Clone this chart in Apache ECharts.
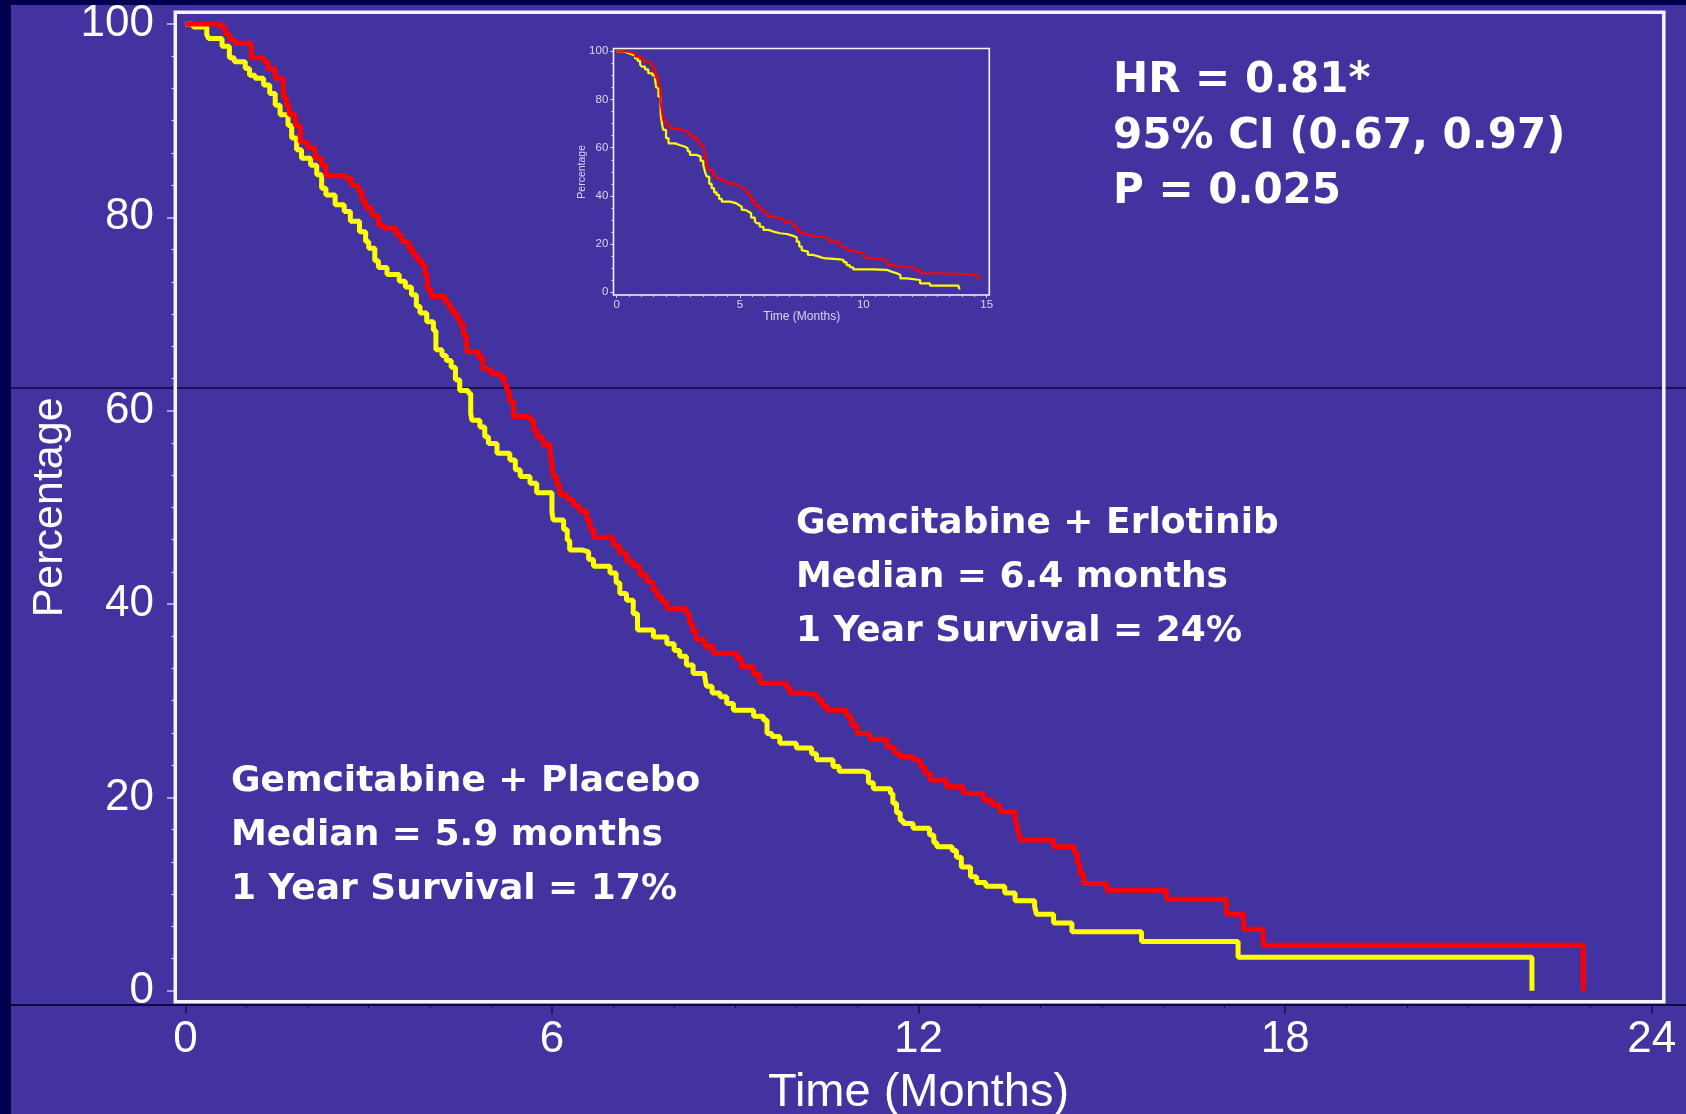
<!DOCTYPE html>
<html>
<head>
<meta charset="utf-8">
<script src="https://cdn.jsdelivr.net/npm/echarts@6/dist/echarts.min.js"></script>
<style>html,body{margin:0;padding:0;background:#4233A0;}#c{width:1686px;height:1114px;}</style>
</head>
<body>
<div id="c"></div>
<script>
// ---------- DATA (Kaplan-Meier steps: [time in months, % surviving]) ----------
const xTicksMain = [0, 6, 12, 18, 24];
const yTicksMain = [0, 20, 40, 60, 80, 100];

const erlotinibMain = [
  [0,100],[0.57,99.7],[0.65,99.0],[0.72,98.4],[0.81,98.0],[1.08,96.5],[1.28,96.1],[1.35,95.4],
  [1.47,94.4],[1.60,92.5],[1.65,91.6],[1.70,90.6],[1.80,89.5],[1.88,87.8],[2.0,87.2],[2.12,86.1],
  [2.23,85.4],[2.3,84.3],[2.64,84.0],[2.72,83.3],[2.83,82.7],[2.89,81.7],[2.95,81.0],[3.05,80.2],
  [3.16,79.2],[3.24,78.9],[3.45,78.2],[3.54,77.5],[3.65,76.8],[3.72,76.1],[3.8,75.5],[3.87,75.1],
  [3.92,74.1],[3.96,72.6],[4.02,71.8],[4.25,71.2],[4.32,70.6],[4.38,70.1],[4.45,69.5],[4.49,69.0],
  [4.55,67.8],[4.6,66.1],[4.8,65.5],[4.87,64.3],[5.0,63.8],[5.15,63.5],[5.22,62.7],[5.26,62.1],
  [5.3,61.0],[5.37,59.4],[5.64,59.0],[5.7,58.0],[5.75,57.3],[5.85,56.5],[5.97,55.6],[6.0,54.4],
  [6.02,53.2],[6.08,52.3],[6.13,51.3],[6.25,50.8],[6.35,50.2],[6.45,49.6],[6.57,48.7],[6.62,47.8],
  [6.68,46.9],[7.0,46.1],[7.1,45.3],[7.22,44.5],[7.32,43.9],[7.44,43.0],[7.55,42.3],[7.65,41.5],
  [7.71,40.8],[7.8,40.2],[7.88,39.5],[8.2,39.0],[8.25,38.0],[8.3,37.2],[8.36,36.3],[8.5,35.6],
  [8.64,34.9],[9.02,34.4],[9.1,33.5],[9.3,32.7],[9.4,31.8],[9.84,31.3],[9.9,30.8],[10.12,30.6],
  [10.34,30.1],[10.42,29.5],[10.5,29.0],[10.82,28.4],[10.9,27.5],[10.99,26.6],[11.2,26.0],[11.48,25.2],
  [11.6,24.6],[11.7,24.2],[11.91,23.9],[12.03,23.2],[12.1,22.5],[12.19,21.8],[12.46,21.1],[12.73,20.4],
  [13.06,19.7],[13.2,19.2],[13.33,18.5],[13.58,17.7],[13.61,17.0],[13.64,16.3],[13.66,15.6],[14.21,14.9],
  [14.55,14.2],[14.6,13.2],[14.64,12.1],[14.70,11.1],[15.08,10.4],[16.06,9.45],[17.04,7.9],[17.32,6.35],
  [17.64,4.7],[22.88,4.7],[22.88,0]
];

const placeboMain = [
  [0,100],[0.13,99.7],[0.35,98.9],[0.38,98.5],[0.6,97.7],[0.72,96.5],[0.8,96.1],[0.98,95.4],
  [1.05,94.7],[1.14,94.4],[1.28,93.7],[1.38,92.8],[1.47,91.6],[1.55,90.6],[1.68,89.5],[1.74,88.2],
  [1.82,87.0],[1.9,86.1],[2.05,85.4],[2.15,84.4],[2.23,83.0],[2.3,82.3],[2.45,81.3],[2.6,80.6],
  [2.7,79.6],[2.85,78.5],[2.95,77.5],[3.0,76.8],[3.1,75.5],[3.16,74.8],[3.3,74.1],[3.5,73.4],
  [3.6,72.8],[3.7,72.0],[3.78,70.8],[3.84,70.1],[3.95,69.2],[4.06,68.3],[4.1,66.3],[4.2,65.7],
  [4.27,65.2],[4.35,64.5],[4.42,63.2],[4.49,62.1],[4.63,61.8],[4.67,59.7],[4.69,59.0],[4.82,58.3],
  [4.9,57.3],[4.96,56.6],[5.1,55.6],[5.31,54.9],[5.4,53.9],[5.48,53.2],[5.64,52.5],[5.75,51.5],
  [6.0,49.5],[6.02,48.7],[6.19,47.7],[6.25,46.6],[6.29,45.6],[6.49,45.4],[6.6,44.6],[6.68,43.9],
  [6.95,43.2],[7.05,42.2],[7.11,41.1],[7.22,40.4],[7.33,39.0],[7.4,37.3],[7.66,36.6],[7.88,35.9],
  [8.0,35.2],[8.09,34.6],[8.2,33.7],[8.31,32.8],[8.5,32.5],[8.53,31.5],[8.62,30.8],[8.75,30.4],
  [8.86,29.7],[8.97,29.0],[9.3,28.4],[9.46,28.0],[9.52,26.6],[9.6,26.3],[9.73,25.6],[10.0,25.1],
  [10.25,24.5],[10.33,23.9],[10.6,23.2],[10.7,22.7],[11.1,22.5],[11.18,21.5],[11.26,20.9],[11.54,20.4],
  [11.58,19.4],[11.64,18.4],[11.7,17.6],[11.75,17.3],[11.91,16.8],[12.18,16.1],[12.25,15.3],[12.3,14.9],
  [12.55,14.5],[12.62,13.8],[12.7,12.8],[12.85,11.8],[12.95,11.2],[13.1,10.8],[13.41,10.1],[13.58,9.3],
  [13.9,8.7],[13.93,7.9],[14.21,7.0],[14.51,6.1],[15.65,5.1],[17.23,3.45],[22.04,3.45],[22.04,0]
];

const xTicksInset = [0, 5, 10, 15];
const yTicksInset = [0, 20, 40, 60, 80, 100];

const erlotinibInset = [
  [0,100],[0.3,99.7],[0.54,99.0],[0.75,97.8],[0.95,96.8],[1.1,95.8],[1.28,95.0],[1.4,93.8],
  [1.49,92.5],[1.58,89.0],[1.69,85.3],[1.78,79.0],[1.85,74.0],[1.89,71.5],[2.0,69.5],[2.16,68.0],
  [2.4,67.2],[2.7,66.5],[2.9,65.5],[3.05,64.3],[3.24,63.2],[3.35,61.5],[3.45,60.4],[3.55,56.0],
  [3.65,52.5],[3.72,50.8],[3.9,48.5],[4.05,47.3],[4.25,46.2],[4.46,45.2],[4.7,44.5],[4.86,43.8],
  [5.05,43.0],[5.2,42.5],[5.3,40.5],[5.45,38.0],[5.6,36.0],[5.81,34.2],[6.0,32.8],[6.15,31.4],
  [6.4,30.7],[6.62,30.0],[6.8,29.0],[7.03,28.6],[7.15,27.5],[7.3,25.9],[7.45,24.5],[7.57,23.8],
  [7.8,23.1],[8.1,22.8],[8.5,22.0],[8.6,21.0],[8.99,20.8],[9.05,19.0],[9.2,18.3],[9.35,17.3],
  [9.46,16.5],[9.86,16.2],[10.0,15.0],[10.14,14.1],[10.5,13.4],[10.95,13.2],[11.0,11.3],[11.2,10.6],
  [11.5,10.3],[12.03,10.0],[12.15,9.0],[12.3,7.9],[12.84,7.6],[14.19,6.9],[14.66,6.1],[14.7,5.1]
];

const placeboInset = [
  [0,100],[0.2,99.5],[0.4,99.0],[0.55,98.3],[0.74,97.1],[0.85,96.0],[0.95,94.5],[1.01,93.6],
  [1.15,92.5],[1.28,90.9],[1.45,90.0],[1.55,88.8],[1.6,85.0],[1.69,81.2],[1.78,74.0],[1.85,69.0],
  [1.89,67.4],[2.0,64.0],[2.1,61.8],[2.36,61.1],[2.55,60.4],[2.77,59.8],[2.88,58.5],[2.97,57.0],
  [3.24,56.3],[3.4,54.5],[3.51,52.8],[3.58,50.0],[3.65,48.0],[3.75,45.0],[3.85,43.2],[3.95,41.5],
  [4.05,40.4],[4.15,38.8],[4.26,37.6],[4.6,36.9],[4.86,36.2],[4.95,35.5],[5.07,34.2],[5.2,33.5],
  [5.34,32.8],[5.45,31.0],[5.6,29.5],[5.68,28.6],[5.8,27.2],[5.95,25.9],[6.15,25.2],[6.35,24.5],
  [6.62,24.2],[6.9,23.4],[7.16,22.8],[7.3,21.0],[7.4,19.0],[7.5,17.5],[7.57,16.9],[7.75,15.5],
  [7.97,14.8],[8.2,14.2],[8.38,13.7],[9.05,13.4],[9.2,12.5],[9.32,11.3],[9.45,10.4],[9.59,9.5],
  [10.4,9.3],[10.95,8.7],[11.1,7.9],[11.35,7.2],[11.5,5.8],[11.76,5.1],[12.3,3.7],[12.7,2.8],
  [13.85,2.1],[13.9,1.2]
];

const annotationHR = ['HR = 0.81*', '95% CI (0.67, 0.97)', 'P = 0.025'];
const annotationErlotinib = ['Gemcitabine + Erlotinib', 'Median = 6.4 months', '1 Year Survival = 24%'];
const annotationPlacebo = ['Gemcitabine + Placebo', 'Median = 5.9 months', '1 Year Survival = 17%'];

// ---------- CHART ----------
const RED = '#FF0000', YELLOW = '#FFFF00';
const BG = '#4233A0', DARK = '#00004E';
const chart = echarts.init(document.getElementById('c'), null, {renderer: 'canvas'});

function textBlock(lines, x, y0, step, size, family) {
  return lines.map((t, i) => ({
    type: 'text', z: 50,
    style: {
      x: x, y: y0 + i * step, text: t,
      fill: '#FFFFFF', font: 'bold ' + size + 'px ' + family,
      textAlign: 'left', textVerticalAlign: 'middle'
    }
  }));
}

const AX = 'Liberation Sans, Arial, sans-serif';
const BOLD = '"DejaVu Sans", Verdana, sans-serif';

const option = {
  backgroundColor: BG,
  animation: false,
  grid: [
    {left: 185.4, right: 34.3, top: 24, bottom: 123.3, containLabel: false, outerBoundsMode: 'none'},
    {left: 616.7, width: 370, top: 51.3, height: 241, containLabel: false, outerBoundsMode: 'none'}
  ],
  xAxis: [
    {
      type: 'value', gridIndex: 0, min: xTicksMain[0], max: xTicksMain[xTicksMain.length - 1], interval: 6,
      offset: 14.3, position: 'bottom',
      axisLine: {show: false, onZero: false},
      axisTick: {show: true, length: 9, lineStyle: {color: '#15124A', width: 1.5}},
      minorTick: {show: true, splitNumber: 6, length: 3.5, lineStyle: {color: '#15124A', width: 1.2}},
      splitLine: {show: false},
      axisLabel: {color: '#FFFFFF', fontSize: 44, fontFamily: AX, margin: 13},
      name: 'Time (Months)', nameLocation: 'middle', nameGap: 65, nameMoveOverlap: false,
      nameTextStyle: {color: '#FFFFFF', fontSize: 47, fontFamily: AX}
    },
    {
      type: 'value', gridIndex: 1, min: xTicksInset[0], max: xTicksInset[xTicksInset.length - 1], interval: 5,
      offset: 2.7, position: 'bottom',
      axisLine: {show: false, onZero: false},
      axisTick: {show: true, length: 3, lineStyle: {color: '#D0D0EA', width: 1}},
      minorTick: {show: true, splitNumber: 10, length: 2, lineStyle: {color: '#C8C8E4', width: 1}},
      splitLine: {show: false},
      axisLabel: {color: '#D8D8F0', fontSize: 11.5, fontFamily: AX, margin: 4},
      name: 'Time (Months)', nameLocation: 'middle', nameGap: 16, nameMoveOverlap: false,
      nameTextStyle: {color: '#D8D8F0', fontSize: 12, fontFamily: AX}
    }
  ],
  yAxis: [
    {
      type: 'value', gridIndex: 0, min: yTicksMain[0], max: yTicksMain[yTicksMain.length - 1], interval: 20,
      offset: 10.4, position: 'left',
      axisLine: {show: false, onZero: false},
      axisTick: {show: true, length: 8, lineStyle: {color: '#C8C8E0', width: 1.5}},
      minorTick: {show: true, splitNumber: 6, length: 3.5, lineStyle: {color: '#C8C8E0', width: 1.2}},
      splitLine: {show: false},
      axisLabel: {color: '#FFFFFF', fontSize: 44, fontFamily: AX, margin: 21},
      name: 'Percentage', nameLocation: 'middle', nameGap: 103, nameMoveOverlap: false,
      nameTextStyle: {color: '#FFFFFF', fontSize: 43, fontFamily: AX}
    },
    {
      type: 'value', gridIndex: 1, min: yTicksInset[0], max: yTicksInset[yTicksInset.length - 1], interval: 20,
      offset: 3.4, position: 'left',
      axisLine: {show: false, onZero: false},
      axisTick: {show: true, length: 3, lineStyle: {color: '#D0D0EA', width: 1}},
      minorTick: {show: true, splitNumber: 4, length: 2, lineStyle: {color: '#C8C8E4', width: 1}},
      splitLine: {show: false},
      axisLabel: {color: '#D8D8F0', fontSize: 11.5, fontFamily: AX, margin: 5},
      name: 'Percentage', nameLocation: 'middle', nameGap: 26, nameMoveOverlap: false,
      nameTextStyle: {color: '#D8D8F0', fontSize: 10.5, fontFamily: AX}
    }
  ],
  series: [
    {name: 'Gemcitabine + Placebo', type: 'line', xAxisIndex: 0, yAxisIndex: 0, step: 'end', symbol: 'none',
      data: placeboMain, lineStyle: {color: YELLOW, width: 5}, z: 3},
    {name: 'Gemcitabine + Erlotinib', type: 'line', xAxisIndex: 0, yAxisIndex: 0, step: 'end', symbol: 'none',
      data: erlotinibMain, lineStyle: {color: RED, width: 5}, z: 4},
    {name: 'Placebo inset', type: 'line', xAxisIndex: 1, yAxisIndex: 1, step: 'end', symbol: 'none',
      data: placeboInset, lineStyle: {color: YELLOW, width: 2.2}, z: 3},
    {name: 'Erlotinib inset', type: 'line', xAxisIndex: 1, yAxisIndex: 1, step: 'end', symbol: 'none',
      data: erlotinibInset, lineStyle: {color: RED, width: 2.2}, z: 4}
  ],
  graphic: [].concat(
    [
      {type: 'rect', z: 1, shape: {x: 0, y: 0, width: 11, height: 1114}, style: {fill: DARK}},
      {type: 'rect', z: 1, shape: {x: 0, y: 0, width: 1686, height: 5}, style: {fill: DARK}},
      {type: 'line', z: 1, shape: {x1: 11, y1: 388, x2: 1686, y2: 388}, style: {stroke: '#0C0A3C', lineWidth: 1.5}},
      {type: 'line', z: 1, shape: {x1: 11, y1: 1005, x2: 1686, y2: 1005}, style: {stroke: '#0C0A3C', lineWidth: 2}},
      {type: 'rect', z: 10, shape: {x: 175.3, y: 12.3, width: 1488.5, height: 989.5},
        style: {fill: 'none', stroke: '#F6F4FF', lineWidth: 3.5}},
      {type: 'rect', z: 10, shape: {x: 613.5, y: 48.5, width: 375.8, height: 246.5},
        style: {fill: 'none', stroke: '#F6F4FF', lineWidth: 1.6}}
    ],
    textBlock(annotationHR, 1113, 81.5, 55.5, 42, BOLD),
    textBlock(annotationErlotinib, 796, 523.5, 54, 36, BOLD),
    textBlock(annotationPlacebo, 231, 782, 54, 36, BOLD)
  )
};
chart.setOption(option);
</script>
</body>
</html>
